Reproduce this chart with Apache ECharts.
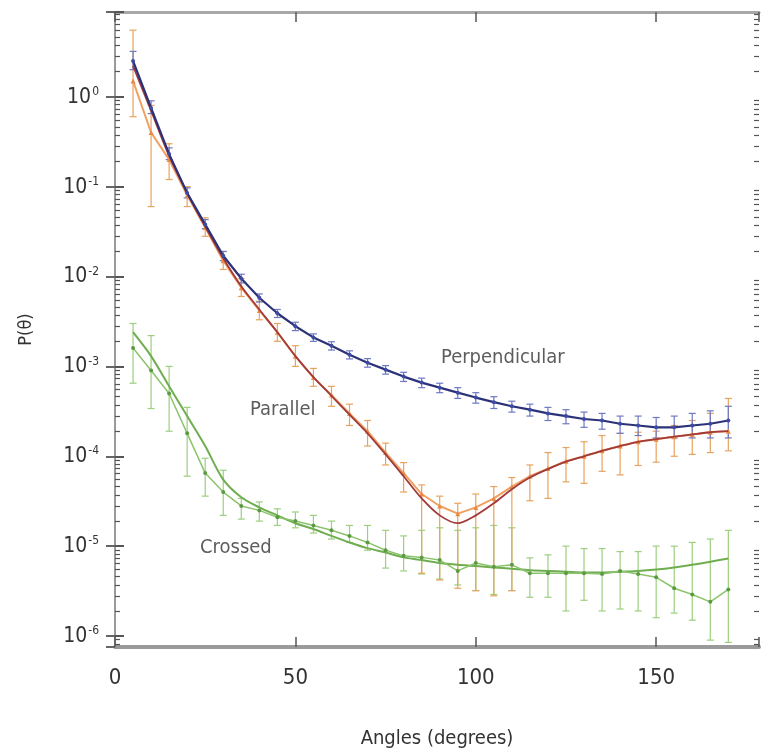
<!DOCTYPE html>
<html>
<head>
<meta charset="utf-8">
<script src="https://cdn.jsdelivr.net/npm/echarts@6/dist/echarts.min.js"></script>
<style>
html,body{margin:0;padding:0;background:#fff;}
#c{width:764px;height:754px;}
</style>
</head>
<body>
<div id="c"></div>
<script>
// ---------- DATA ----------
const angles = [5,10,15,20,25,30,35,40,45,50,55,60,65,70,75,80,85,90,95,100,105,110,115,120,125,130,135,140,145,150,155,160,165,170];

const perpValues = [2.5,0.75,0.23,0.085,0.038,0.017,0.0095,0.0058,0.0039,0.0028,0.0021,0.0017,0.00135,0.0011,0.00092,0.00077,0.00066,0.00058,0.00051,0.00045,0.0004,0.00036,0.00033,0.0003,0.00028,0.00026,0.00025,0.00023,0.00022,0.00021,0.00021,0.00022,0.00023,0.00025];
const perpLow = [2.0,0.65,0.2,0.075,0.034,0.015,0.0085,0.0052,0.0035,0.0025,0.0019,0.00152,0.00121,0.00098,0.00082,0.00068,0.00058,0.00051,0.00044,0.00039,0.00034,0.00031,0.00028,0.00025,0.00023,0.00021,0.0002,0.00018,0.00017,0.00016,0.00016,0.00016,0.00016,0.00016];
const perpHigh = [3.2,0.9,0.27,0.097,0.043,0.019,0.0106,0.0064,0.0043,0.0031,0.0023,0.00188,0.00149,0.00122,0.00102,0.00086,0.00074,0.00065,0.00058,0.00051,0.00046,0.00041,0.00038,0.00035,0.00033,0.00031,0.0003,0.00028,0.00028,0.00027,0.00028,0.0003,0.00032,0.00036];

const parValues = [1.5,0.4,0.2,0.08,0.035,0.015,0.0075,0.0042,0.0024,0.0013,0.00075,0.00048,0.0003,0.00019,0.00011,6.5e-5,3.8e-5,2.8e-5,2.3e-5,2.7e-5,3.4e-5,4.6e-5,6e-5,7.3e-5,8.8e-5,1.0e-4,1.15e-4,1.3e-4,1.45e-4,1.55e-4,1.65e-4,1.75e-4,1.85e-4,1.9e-4];
const parLow = [0.6,0.06,0.12,0.06,0.028,0.012,0.006,0.0033,0.0019,0.001,0.0006,0.00036,0.00022,0.00013,8e-5,4e-5,5e-6,4.2e-6,3.4e-6,3.2e-6,2.8e-6,3.2e-6,3.2e-5,3.4e-5,5.2e-5,5e-5,6.8e-5,6.2e-5,7.9e-5,8.6e-5,1.0e-4,1.05e-4,1.1e-4,1.15e-4];
const parHigh = [5.5,0.8,0.3,0.1,0.045,0.019,0.0095,0.0053,0.003,0.0017,0.00095,0.0006,0.00038,0.00025,1.4e-4,8.5e-5,4.8e-5,3.6e-5,3.0e-5,3.8e-5,4.6e-5,5.8e-5,8e-5,1.1e-4,1.25e-4,1.45e-4,1.7e-4,1.8e-4,1.85e-4,1.9e-4,2.2e-4,2.5e-4,3.0e-4,4.4e-4];
const parFit = [2.2,0.7,0.22,0.085,0.036,0.016,0.0078,0.0043,0.0024,0.0013,0.00076,0.00047,0.00029,0.00018,0.000105,6e-5,3.4e-5,2.2e-5,1.8e-5,2.2e-5,3.0e-5,4.3e-5,5.8e-5,7.2e-5,8.7e-5,1.0e-4,1.15e-4,1.3e-4,1.45e-4,1.55e-4,1.65e-4,1.75e-4,1.85e-4,1.9e-4];

const crossValues = [1.6e-3,9e-4,5e-4,1.8e-4,6.5e-5,4e-5,2.8e-5,2.5e-5,2.1e-5,1.9e-5,1.7e-5,1.5e-5,1.3e-5,1.1e-5,9e-6,7.8e-6,7.5e-6,7e-6,5.3e-6,6.5e-6,5.9e-6,6.2e-6,5e-6,5e-6,5e-6,5e-6,4.9e-6,5.3e-6,4.9e-6,4.5e-6,3.4e-6,2.9e-6,2.4e-6,3.3e-6];
const crossLow = [6.5e-4,3.4e-4,1.9e-4,6e-5,3.6e-5,2.2e-5,2e-5,1.9e-5,1.7e-5,1.6e-5,1.4e-5,1.2e-5,1.1e-5,9e-6,5.7e-6,5.3e-6,4.9e-6,4.3e-6,3.7e-6,3.2e-6,2.9e-6,3.2e-6,2.7e-6,2.7e-6,1.9e-6,2.5e-6,1.9e-6,2e-6,1.9e-6,1.6e-6,1.8e-6,1.5e-6,9e-7,8.5e-7];
const crossHigh = [3.0e-3,2.2e-3,1.0e-3,3.5e-4,9.5e-5,7e-5,3.4e-5,3.1e-5,2.6e-5,2.4e-5,2.2e-5,1.9e-5,1.7e-5,1.7e-5,1.5e-5,1.3e-5,1.5e-5,1.6e-5,1.5e-5,1.6e-5,1.7e-5,1.6e-5,7.4e-6,8e-6,1e-5,9.4e-6,9.4e-6,8.7e-6,8.7e-6,1e-5,1e-5,1.1e-5,1.2e-5,1.5e-5];
const crossFit = [2.4e-3,1.3e-3,6e-4,2.8e-4,1.3e-4,5.5e-5,3.5e-5,2.7e-5,2.2e-5,1.8e-5,1.55e-5,1.3e-5,1.1e-5,9.5e-6,8.5e-6,7.5e-6,7e-6,6.5e-6,6.2e-6,6e-6,5.8e-6,5.6e-6,5.4e-6,5.3e-6,5.2e-6,5.1e-6,5.1e-6,5.2e-6,5.3e-6,5.5e-6,5.8e-6,6.2e-6,6.7e-6,7.3e-6];

const xTicks = [0,50,100,150];
const yExponents = [-6,-5,-4,-3,-2,-1,0];

const labelTexts = ['Perpendicular','Parallel','Crossed'];
const labelAngles = [107.5,46.5,33.5];
const labelValues = [1.25e-3,3.3e-4,0.95e-5];

// ---------- CHART ----------
const FONT = "'Liberation Sans Narrow','DejaVu Sans Condensed','Roboto','DejaVu Sans',sans-serif";
const TXT = '#333';
const pairs = (ys) => angles.map((a,i)=>[a, ys[i]]);
const triples = (lo,hi) => angles.map((a,i)=>[a, lo[i], hi[i]]);

function errRender(color){
  return function(params, api){
    const x = api.value(0);
    const p1 = api.coord([x, api.value(1)]);
    const p2 = api.coord([x, api.value(2)]);
    const w = 3.5;
    const st = {stroke: color, lineWidth: 1.2};
    return {type:'group', children:[
      {type:'line', shape:{x1:p1[0],y1:p1[1],x2:p2[0],y2:p2[1]}, style:st},
      {type:'line', shape:{x1:p1[0]-w,y1:p1[1],x2:p1[0]+w,y2:p1[1]}, style:st},
      {type:'line', shape:{x1:p2[0]-w,y1:p2[1],x2:p2[0]+w,y2:p2[1]}, style:st}
    ]};
  };
}

const yMin = 7.55e-7, yMax = 8.77;
const GRID = {left:115, right:5, top:12, bottom:105};
const gridWidth = 764 - GRID.left - GRID.right;

const supLabel = (v)=>{
  const e = Math.round(Math.log10(v));
  if (yExponents.indexOf(e) < 0) return '';
  return '{b|10}{s|' + (e===0 ? '0' : e) + '}';
};

// axes used only to draw inward-pointing minor ticks (placed on opposite side via offset)
const minorOnly = (pos) => ({
  type:'log', logBase:10, min:yMin, max:yMax, position:pos, offset:-gridWidth,
  axisLine:{show:false}, axisTick:{show:false}, axisLabel:{show:false},
  splitLine:{show:false},
  minorTick:{show:true, splitNumber:10, length:5, lineStyle:{color:'#555', width:1.2}}
});

const option = {
  backgroundColor:'#fff',
  animation:false,
  grid:GRID,
  xAxis:[
    {type:'value', min:0, max:178.5, interval:50, position:'bottom',
     axisLine:{show:true, lineStyle:{color:'#9a9a9a', width:4}},
     axisTick:{show:true, inside:true, length:10, lineStyle:{color:'#555', width:1.5}},
     splitLine:{show:false},
     axisLabel:{show:true, margin:20, color:TXT, fontSize:22, fontFamily:FONT,
       formatter:(v)=> xTicks.indexOf(v)>=0 ? String(v) : ''},
     name:'Angles (degrees)', nameLocation:'middle', nameGap:82,
     nameTextStyle:{color:TXT, fontSize:20, fontFamily:FONT}
    },
    {type:'value', min:0, max:178.5, interval:50, position:'top',
     axisLine:{show:true, lineStyle:{color:'#a8a8a8', width:3}},
     axisTick:{show:true, inside:true, length:10, lineStyle:{color:'#555', width:1.5}},
     axisLabel:{show:false}, splitLine:{show:false}}
  ],
  yAxis:[
    {type:'log', logBase:10, min:yMin, max:yMax, position:'left',
      splitLine:{show:false},
      axisLine:{show:true, lineStyle:{color:'#555', width:2}},
      axisTick:{show:true, inside:true, length:9, lineStyle:{color:'#555', width:2}},
      axisLabel:{show:true, margin:16, formatter:supLabel,
        rich:{
          b:{fontSize:21, color:TXT, fontFamily:FONT, verticalAlign:'bottom', lineHeight:22},
          s:{fontSize:12, color:TXT, fontFamily:FONT, verticalAlign:'top', padding:[0,0,12,1], lineHeight:22}
        }},
      name:'P(\u03b8)', nameLocation:'middle', nameGap:80, nameRotate:90,
      nameTextStyle:{color:TXT, fontSize:18, fontFamily:FONT}
    },
    {type:'log', logBase:10, min:yMin, max:yMax, position:'right',
      splitLine:{show:false},
      axisLine:{show:true, lineStyle:{color:'#9a9a9a', width:2}},
      axisTick:{show:true, inside:true, length:9, lineStyle:{color:'#666', width:2}},
      axisLabel:{show:false}
    },
    minorOnly('right'),
    minorOnly('left')
  ],
  series:[
    {type:'custom', name:'crossErr', renderItem:errRender('#9ccf7e'),
     encode:{x:0, y:[1,2]}, data:triples(crossLow, crossHigh), z:1, clip:true},
    {type:'custom', name:'parErr', renderItem:errRender('#e8a35e'),
     encode:{x:0, y:[1,2]}, data:triples(parLow, parHigh), z:1, clip:true},
    {type:'custom', name:'perpErr', renderItem:errRender('#6d79c2'),
     encode:{x:0, y:[1,2]}, data:triples(perpLow, perpHigh), z:1, clip:true},

    {type:'line', name:'Crossed fit', data:pairs(crossFit), showSymbol:false, smooth:0.3,
     lineStyle:{color:'#6fae50', width:2}, z:2},
    {type:'line', name:'Crossed', data:pairs(crossValues), symbol:'circle', symbolSize:4,
     itemStyle:{color:'#5b9a43'}, lineStyle:{color:'#8cc46c', width:1.5}, z:3},

    {type:'line', name:'Parallel', data:pairs(parValues), symbol:'triangle', symbolSize:5,
     itemStyle:{color:'#e98a45'}, lineStyle:{color:'#f0a060', width:2}, z:3},
    {type:'line', name:'Parallel fit', data:pairs(parFit), showSymbol:false, smooth:0.3,
     lineStyle:{color:'#a33a3a', width:1.8}, z:4},

    {type:'line', name:'Perpendicular', data:pairs(perpValues), symbol:'circle', symbolSize:4,
     itemStyle:{color:'#3d4aa3'}, lineStyle:{color:'#2c3278', width:2.2}, z:5},

    {type:'scatter', name:'labels', symbolSize:0, z:10, silent:true,
     data: labelTexts.map((t,i)=>({value:[labelAngles[i], labelValues[i]], name:t})),
     label:{show:true, position:'inside', formatter:(p)=>p.name, color:TXT,
       fontSize:20, fontFamily:FONT}}
  ]
};

const chart = echarts.init(document.getElementById('c'), null, {renderer:'canvas'});
chart.setOption(option);
</script>
</body>
</html>
